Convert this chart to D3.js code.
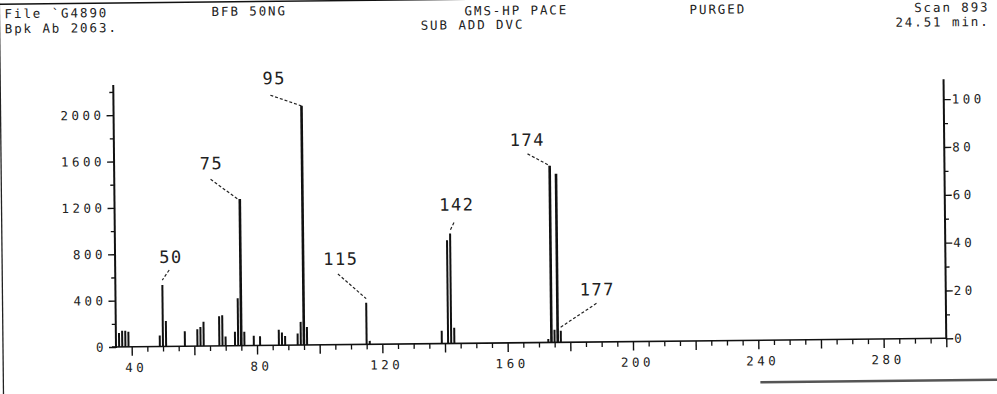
<!DOCTYPE html>
<html>
<head>
<meta charset="utf-8">
<script src="https://cdn.jsdelivr.net/npm/d3@7/dist/d3.min.js"></script>
<style>
  html, body { margin: 0; padding: 0; background: #fff; }
  svg { display: block; }
  .plot text { font-family: "DejaVu Sans Mono", "Liberation Mono", monospace; fill: #222; }
</style>
</head>
<body>
<svg id="chart" width="997" height="394"></svg>
<script>
// Mass spectrum, scan 893 (BFB 50 ng tune check)
const massValues = [36, 37, 38, 39, 49, 50, 51, 57, 61, 62, 63, 68, 69, 70, 73, 74, 75, 76,
  79, 81, 87, 88, 89, 93, 94, 95, 96, 115, 116, 139, 141, 142, 143, 173, 174, 175, 176, 177];
const abundances = [120, 140, 140, 130, 95, 530, 220, 130, 145, 165, 210, 255, 265, 80, 120, 410, 1265, 120,
  85, 80, 135, 110, 80, 100, 200, 2063, 155, 360, 30, 110, 890, 948, 135, 30, 1525, 110, 1455, 100];
const labelledMasses = [50, 75, 95, 115, 142, 174, 177];
const basePeakAbundance = 2063;

const massTicks = [40, 80, 120, 160, 200, 240, 280];
const abundanceTicks = [0, 400, 800, 1200, 1600, 2000];
const percentTicks = [0, 20, 40, 60, 80, 100];

const headerLine1 = ["File `G4890", "BFB 50NG", "GMS-HP PACE", "PURGED", "Scan 893"];
const headerLine2 = ["Bpk Ab 2063.", "SUB ADD DVC", "24.51 min."];

const svg = d3.select("#chart");
svg.append("rect").attr("width", 997).attr("height", 394).attr("fill", "#fff");

// the whole sheet sits slightly tilted on the page
const g = svg.append("g").attr("class", "plot").attr("transform", "rotate(-0.6, 116, 347)");

const x = d3.scaleLinear().domain([35, 300]).range([116, 946.3]);
const y = d3.scaleLinear().domain([0, 2260]).range([347, 85]);
const yPct = d3.scaleLinear().domain([0, 100]).range([y(0), y(basePeakAbundance)]);

// frame lines
g.append("line").attr("x1", -10).attr("x2", 1010).attr("y1", 3).attr("y2", 3)
  .attr("stroke", "#111").attr("stroke-width", 1.4);
g.append("line").attr("x1", 3).attr("x2", 3).attr("y1", 0).attr("y2", 400)
  .attr("stroke", "#222").attr("stroke-width", 1.3);
g.append("line").attr("x1", 760).attr("x2", 1010).attr("y1", 389).attr("y2", 389)
  .attr("stroke", "#555").attr("stroke-width", 2.5);

// header text
const hdr = g.append("g").attr("font-size", 12.5).attr("letter-spacing", 1.9);
const h1x = [8, 215, 468, 693, 993];
const h1y = [17, 17, 19, 20, 20.5];
headerLine1.forEach((t, i) => {
  hdr.append("text").attr("x", h1x[i]).attr("y", h1y[i])
    .attr("text-anchor", i === 4 ? "end" : "start").text(t);
});
const h2x = [8, 424, 993];
const h2y = [32, 33, 35];
headerLine2.forEach((t, i) => {
  hdr.append("text").attr("x", h2x[i]).attr("y", h2y[i])
    .attr("text-anchor", i === 2 ? "end" : "start").text(t);
});

// axes
const axisFont = 12.5, axisLs = 3.5;
const fmt = d3.format("d");

const xMinor = d3.range(40, 301, 5).filter(v => v % 20 !== 0);
const xMajor = d3.range(40, 301, 20);
g.append("g").attr("transform", `translate(0,${y(0)})`)
  .call(d3.axisBottom(x).tickValues(xMinor).tickSize(5).tickSizeOuter(0).tickFormat(""))
  .call(a => a.select(".domain").remove())
  .call(a => a.selectAll("line").attr("stroke", "#111").attr("stroke-width", 1.3));
g.append("g").attr("transform", `translate(0,${y(0)})`)
  .call(d3.axisBottom(x).tickValues(xMajor).tickSize(9).tickSizeOuter(0)
    .tickFormat(d => massTicks.includes(d) ? fmt(d) : ""))
  .call(a => a.select(".domain").remove())
  .call(a => a.selectAll("line").attr("stroke", "#111").attr("stroke-width", 1.4))
  .call(a => a.selectAll("text").attr("font-size", axisFont).attr("letter-spacing", axisLs)
    .attr("dy", "1.05em").attr("dx", axisLs / 2 + 2).attr("font-family", "DejaVu Sans Mono").attr("fill", "#333"));

g.append("line").attr("x1", x(35) - 4).attr("x2", x(300)).attr("y1", y(0)).attr("y2", y(0))
  .attr("stroke", "#111").attr("stroke-width", 1.6);

// left abundance axis
g.append("g").attr("transform", `translate(${x(35)},0)`)
  .call(d3.axisLeft(y).tickValues(d3.range(200, 2201, 400)).tickSize(4).tickSizeOuter(0).tickFormat(""))
  .call(a => a.select(".domain").remove())
  .call(a => a.selectAll("line").attr("stroke", "#111").attr("stroke-width", 1.3));
g.append("g").attr("transform", `translate(${x(35)},0)`)
  .call(d3.axisLeft(y).tickValues(abundanceTicks).tickSize(7).tickSizeOuter(0).tickPadding(2).tickFormat(fmt))
  .call(a => a.select(".domain").remove())
  .call(a => a.selectAll("line").attr("stroke", "#111").attr("stroke-width", 1.4))
  .call(a => a.selectAll("text").attr("font-size", axisFont).attr("letter-spacing", axisLs)
    .attr("font-family", "DejaVu Sans Mono").attr("fill", "#333"));
g.append("line").attr("x1", x(35)).attr("x2", x(35)).attr("y1", y(0) + 1).attr("y2", 85)
  .attr("stroke", "#111").attr("stroke-width", 2);

// right relative-abundance axis
g.append("g").attr("transform", `translate(${x(300)},0)`)
  .call(d3.axisRight(yPct).tickValues(d3.range(10, 101, 20)).tickSize(4).tickSizeOuter(0).tickFormat(""))
  .call(a => a.select(".domain").remove())
  .call(a => a.selectAll("line").attr("stroke", "#111").attr("stroke-width", 1.3));
g.append("g").attr("transform", `translate(${x(300)},0)`)
  .call(d3.axisRight(yPct).tickValues(percentTicks).tickSize(7).tickSizeOuter(0).tickPadding(1).tickFormat(fmt))
  .call(a => a.select(".domain").remove())
  .call(a => a.selectAll("line").attr("stroke", "#111").attr("stroke-width", 1.3))
  .call(a => a.selectAll("text").attr("font-size", axisFont).attr("letter-spacing", axisLs)
    .attr("font-family", "DejaVu Sans Mono").attr("fill", "#333"));
g.append("line").attr("x1", x(300)).attr("x2", x(300)).attr("y1", y(0) + 1).attr("y2", 88)
  .attr("stroke", "#111").attr("stroke-width", 2);

// spectrum sticks
const peaks = massValues.map((m, i) => ({ m, v: abundances[i] }));
g.append("g").selectAll("line").data(peaks).join("line")
  .attr("x1", d => x(d.m)).attr("x2", d => x(d.m))
  .attr("y1", y(0)).attr("y2", d => y(d.v))
  .attr("stroke", "#111")
  .attr("stroke-width", d => d.v > 1000 ? 2.6 : 2);

// peak labels with dashed leaders: [text dx, text dy, leader start dx, dy, leader end dx, dy]
const labelLayout = {
  50: [9, -22, 7, -15, 0, -5],
  75: [-28, -30, -29, -20, -2, 0],
  95: [-27, -22, -31, -11, 0, 0],
  115: [-25, -38, -28, -29, 0, -4],
  142: [7, -23, 4, -11, 0, -3],
  174: [-22, -20, -22, -12, 0, 0],
  177: [37, -35, 36, -27, -1, -3]
};
const lbl = g.append("g");
labelledMasses.forEach(m => {
  const p = peaks.find(d => d.m === m);
  const px = x(p.m), py = y(p.v);
  const L = labelLayout[m];
  lbl.append("text").attr("x", px + L[0]).attr("y", py + L[1])
    .attr("text-anchor", "middle").attr("font-size", 17).attr("letter-spacing", 1.5)
    .attr("fill", "#111").text(m);
  lbl.append("line").attr("x1", px + L[2]).attr("y1", py + L[3])
    .attr("x2", px + L[4]).attr("y2", py + L[5])
    .attr("stroke", "#222").attr("stroke-width", 1.2).attr("stroke-dasharray", "3,2");
});
</script>
</body>
</html>
